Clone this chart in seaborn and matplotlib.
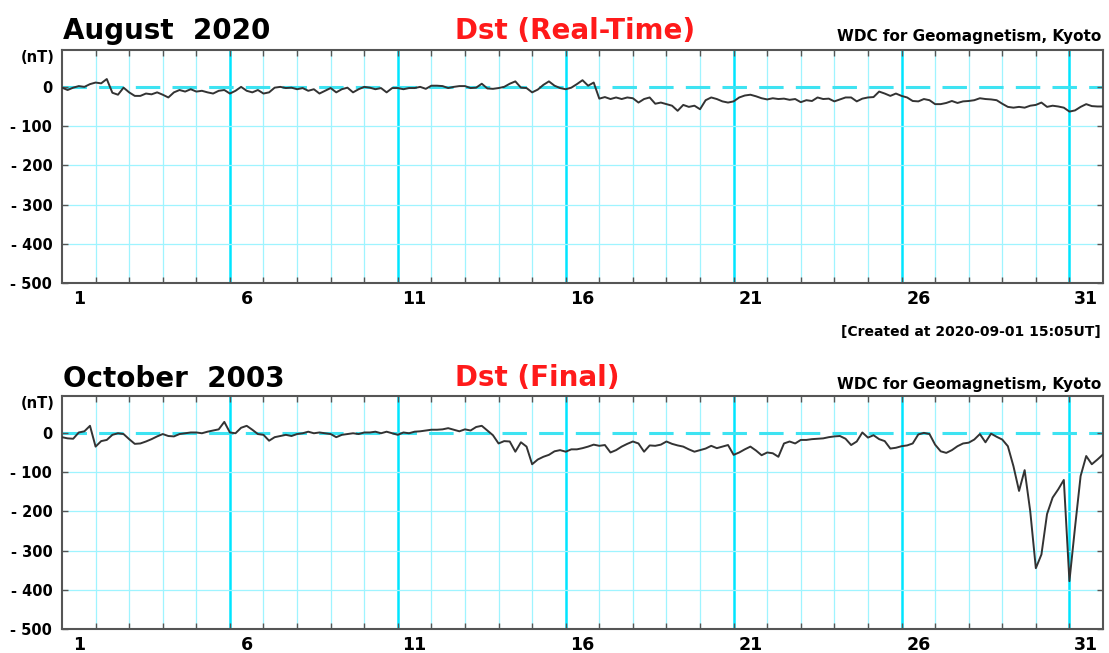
import numpy as np
import pandas as pd
import matplotlib
matplotlib.use("Agg")
import matplotlib.pyplot as plt
import seaborn as sns

# Dst index (nT), every 4 hours, 6 values per day + final point
aug2020_dst = [
    -2, -8, -2, 2, 0, 7,
    11, 9, 20, -15, -20, -2,
    -14, -23, -23, -17, -19, -14,
    -20, -27, -14, -8, -12, -6,
    -12, -10, -14, -17, -10, -8,
    -17, -10, 0, -10, -14, -8,
    -17, -14, -2, 0, -3, -2,
    -6, -3, -10, -6, -17, -10,
    -3, -14, -6, -2, -14, -6,
    0, -2, -6, -3, -14, -3,
    -3, -6, -3, -3, 0, -5,
    3, 3, 2, -3, 0, 2,
    2, -3, -2, 8, -4, -5,
    -3, 0, 8, 14, -2, -3,
    -14, -7, 5, 14, 3, -3,
    -6, -2, 7, 17, 3, 11,
    -30, -26, -31, -27, -31, -27,
    -29, -40, -31, -27, -43, -40,
    -44, -48, -61, -46, -51, -48,
    -57, -34, -27, -31, -37, -40,
    -37, -27, -22, -20, -24, -29,
    -32, -29, -31, -30, -33, -31,
    -39, -34, -36, -27, -31, -30,
    -37, -32, -27, -27, -37, -30,
    -27, -26, -12, -17, -23, -17,
    -23, -27, -36, -37, -31, -34,
    -44, -44, -41, -36, -41, -37,
    -36, -34, -29, -31, -32, -34,
    -43, -51, -53, -51, -53, -48,
    -46, -40, -51, -48, -50, -53,
    -63, -60, -51, -44, -49, -50,
    -50,
]

oct2003_dst = [
    -11, -14, -15, 1, 4, 18,
    -35, -21, -18, -5, -1, -3,
    -16, -28, -27, -22, -16, -9,
    -3, -8, -9, -3, -1, 1,
    1, -1, 3, 6, 9, 28,
    1, -1, 13, 18, 8, -3,
    -5, -20, -11, -8, -5, -8,
    -3, -1, 3, -1, 1, -1,
    -3, -11, -5, -3, -1, -3,
    1, 1, 3, -1, 3, -1,
    -5, 1, -1, 3, 4, 6,
    8, 8, 9, 12, 8, 4,
    9, 6, 15, 18, 6, -6,
    -27, -21, -22, -48, -24, -35,
    -80, -68, -61, -56, -47, -44,
    -48, -42, -42, -39, -35, -30,
    -33, -31, -50, -44, -35, -28,
    -22, -27, -48, -32, -33, -30,
    -22, -28, -32, -35, -42, -48,
    -44, -40, -33, -39, -35, -31,
    -56, -50, -42, -35, -45, -57,
    -50, -52, -61, -27, -22, -27,
    -18, -18, -16, -15, -14, -11,
    -9, -8, -15, -31, -22, 1,
    -12, -6, -16, -21, -40, -38,
    -34, -32, -27, -4, 0, -3,
    -30, -47, -51, -44, -34, -27,
    -25, -17, -3, -24, -2, -10,
    -17, -34, -85, -148, -95, -200,
    -345, -310, -207, -165, -144, -120,
    -378, -241, -110, -59, -80, -68,
    -55,
]

day_labels = ["1", "6", "11", "16", "21", "26", "31"]
y_values = [0, -100, -200, -300, -400, -500]
y_labels = ["0", "- 100", "- 200", "- 300", "- 400", "- 500"]

sns.set_style("white")
plt.rcParams["font.family"] = ["DejaVu Sans"]
plt.rcParams["text.color"] = "black"
plt.rcParams["xtick.labelcolor"] = "black"
plt.rcParams["ytick.labelcolor"] = "black"

W, H = 1109, 653
fig = plt.figure(figsize=(W / 100, H / 100), dpi=100)


def fy(py):
    return 1 - py / H


def draw_panel(ax, values):
    df = pd.DataFrame({"day": np.arange(len(values)) / 6, "dst": values})

    # cyan grid: every day, brighter every 5 days, dashed zero line
    for d in range(1, 31):
        bright = d % 5 == 0
        ax.axvline(d, color="#00e5ff" if bright else "#9ff4ff",
                   lw=1.8 if bright else 0.9, zorder=0)
    for v in y_values[1:-1]:
        ax.axhline(v, color="#9ff4ff", lw=0.9, zorder=0)
    ax.axhline(0, color="#3ee3f2", lw=2.2, ls=(0, (8, 4)), zorder=0)

    sns.lineplot(data=df, x="day", y="dst", ax=ax, color="#333333", lw=1.4, zorder=3)

    ax.set_xlim(0, 31)
    ax.set_ylim(-500, 94)
    ax.set_xlabel("")
    ax.set_ylabel("")

    ax.set_xticks(np.arange(0.5, 31, 5), day_labels)
    ax.set_xticks(np.arange(1, 31), minor=True)
    ax.tick_params(axis="x", which="major", length=0, pad=5, labelsize=12.5)
    ax.tick_params(axis="x", which="minor", direction="in", length=4, width=1,
                   top=True, bottom=True, color="#555555")
    ax.set_yticks(y_values, y_labels)
    ax.tick_params(axis="y", direction="in", length=4, width=1, left=True, right=True,
                   labelsize=10.5, pad=7, color="#555555")
    for lab in ax.get_xticklabels() + ax.get_yticklabels():
        lab.set_fontweight("bold")

    for sp in ax.spines.values():
        sp.set_color("#555555")
        sp.set_linewidth(1.5)


ax_top = fig.add_axes([62 / W, fy(283), 1041 / W, 233 / H])
ax_bot = fig.add_axes([62 / W, fy(629), 1041 / W, 233 / H])
draw_panel(ax_top, aug2020_dst)
draw_panel(ax_bot, oct2003_dst)

# headers
fig.text(63 / W, fy(39), "August  2020", fontsize=20, fontweight="bold", va="baseline")
fig.text(455 / W, fy(39), "Dst (Real-Time)", fontsize=20, fontweight="bold",
         color="#ff1a1a", va="baseline")
fig.text(1101 / W, fy(41), "WDC for Geomagnetism, Kyoto", fontsize=11,
         fontweight="bold", ha="right", va="baseline")
fig.text(55 / W, fy(57), "(nT)", fontsize=10.5, fontweight="bold", ha="right", va="center")
fig.text(1101 / W, fy(336), "[Created at 2020-09-01 15:05UT]", fontsize=10,
         fontweight="bold", ha="right", va="baseline")

fig.text(63 / W, fy(387), "October  2003", fontsize=20, fontweight="bold", va="baseline")
fig.text(455 / W, fy(386), "Dst (Final)", fontsize=20, fontweight="bold",
         color="#ff1a1a", va="baseline")
fig.text(1101 / W, fy(389), "WDC for Geomagnetism, Kyoto", fontsize=11,
         fontweight="bold", ha="right", va="baseline")
fig.text(55 / W, fy(404), "(nT)", fontsize=10.5, fontweight="bold", ha="right", va="center")

fig.savefig("out.png", dpi=100)
